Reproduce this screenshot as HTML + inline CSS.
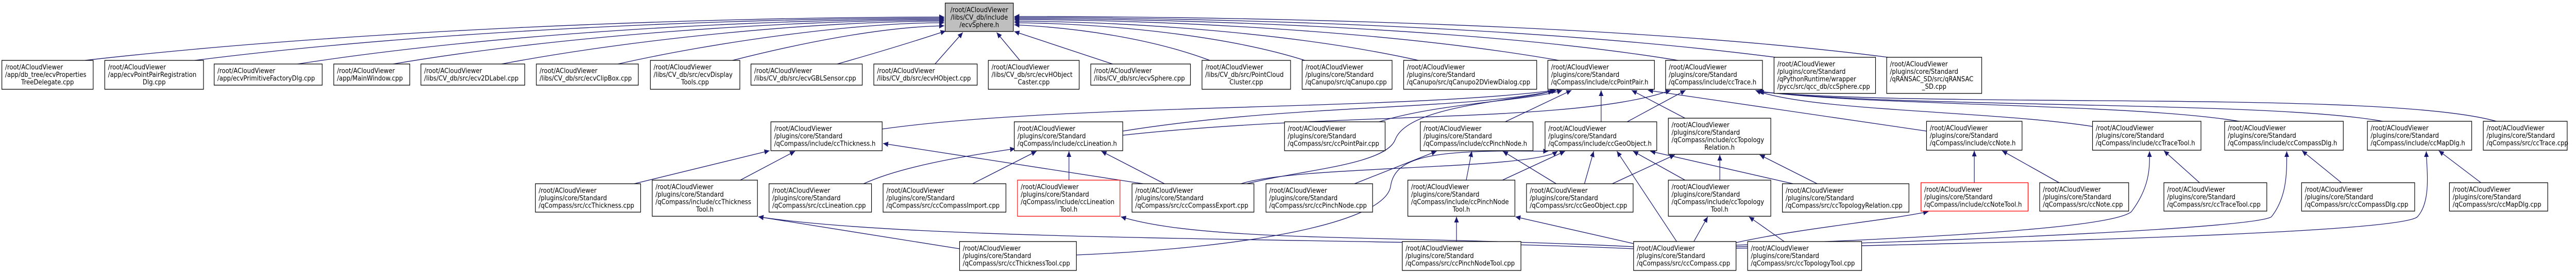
<!DOCTYPE html>
<html><head><meta charset="utf-8"><style>
html,body{margin:0;padding:0;background:#fff;width:100%;height:100%;overflow:hidden;}
svg{display:block;position:absolute;left:0;top:0;width:100vw;height:100vh;}
text{font-family:"DejaVu Sans","Liberation Sans",sans-serif;font-size:13px;fill:#000;}
.n{fill:#fff;stroke:#000;stroke-width:1.3;}
.r{fill:#fff;stroke:#ff0000;stroke-width:1.3;}
.e{fill:none;stroke:#191970;stroke-width:1.3;marker-end:url(#a);}
.c{text-anchor:middle;}
</style></head><body>
<svg viewBox="0 0 5557 527" preserveAspectRatio="none" xmlns="http://www.w3.org/2000/svg">
<defs><marker id="a" markerUnits="userSpaceOnUse" markerWidth="12" markerHeight="10" refX="11" refY="5" orient="auto"><path d="M0,0 L11,5 L0,10 z" fill="#191970"/></marker></defs>

<path class="e" d="M183,117 C739,60 1500,33 2037,33"/>
<path class="e" d="M420,117 C900,62 1560,35 2037,35"/>
<path class="e" d="M642,124 C1060,66 1620,37 2037,37"/>
<path class="e" d="M848,124 C1200,70 1690,39 2037,39"/>
<path class="e" d="M1082,124 C1370,75 1760,41 2037,41"/>
<path class="e" d="M1333,124 C1540,82 1840,44 2037,44"/>
<path class="e" d="M1580,117 C1720,85 1900,52 2037,50"/>
<path class="e" d="M1806,124 C1900,100 1990,75 2040,60"/>
<path class="e" d="M2017,124 L2077,63"/>
<path class="e" d="M2200,117 L2150,63"/>
<path class="e" d="M2400,124 L2188,61"/>
<path class="e" d="M2610,117 C2500,80 2350,55 2188,48"/>
<path class="e" d="M2815,117 C2650,70 2400,46 2188,44"/>
<path class="e" d="M3060,117 C2800,65 2450,42 2188,41"/>
<path class="e" d="M3363,117 C3000,60 2500,38 2188,38"/>
<path class="e" d="M3620,117 C3200,55 2550,36 2188,36"/>
<path class="e" d="M3830,111 C3300,50 2600,34 2188,34"/>
<path class="e" d="M4073,111 C3500,45 2650,32 2188,32"/>

<path class="e" d="M1903,250 C2300,200 3000,215 3355,175"/>
<path class="e" d="M2422,254 C2800,200 3150,215 3358,175"/>
<path class="e" d="M2422,262 C2900,215 3400,240 3604,175"/>
<path class="e" d="M2975,236 C3100,200 3300,195 3370,175"/>
<path class="e" d="M3247,236 L3390,175"/>
<path class="e" d="M3454,236 L3454,175"/>
<path class="e" d="M3635,229 L3520,175"/>
<path class="e" d="M4156,254 L3555,175"/>
<path class="e" d="M3510,236 L3636,175"/>
<path class="e" d="M4514,245 C4300,215 3900,215 3787,175"/>
<path class="e" d="M4830,235 C4600,200 4000,205 3790,176"/>
<path class="e" d="M5140,235 C4900,195 4100,210 3792,177"/>
<path class="e" d="M5385,235 C5150,175 4200,210 3794,178"/>

<path class="e" d="M1368,356 L1660,292"/>
<path class="e" d="M1597,349 L1715,293"/>
<path class="e" d="M2466,356 L1905,278"/>
<path class="e" d="M1863,356 C1950,320 2100,300 2190,288"/>
<path class="e" d="M2098,356 L2236,293"/>
<path class="e" d="M2306,349 L2306,293"/>
<path class="e" d="M2512,356 L2376,293"/>
<path class="e" d="M2677,356 C2800,320 3300,330 3360,293"/>
<path class="e" d="M2690,356 C2800,330 2990,320 3010,270 C3040,200 3300,195 3350,175"/>
<path class="e" d="M2922,356 L3099,293"/>
<path class="e" d="M3163,349 L3175,293"/>
<path class="e" d="M3241,349 L3376,293"/>
<path class="e" d="M3357,356 L3242,293"/>
<path class="e" d="M3418,356 L3438,293"/>
<path class="e" d="M3478,356 L3613,300"/>
<path class="e" d="M3635,349 L3523,293"/>
<path class="e" d="M3710,349 L3710,300"/>
<path class="e" d="M3868,356 L3560,293"/>
<path class="e" d="M3920,356 L3796,300"/>
<path class="e" d="M4259,354 L4259,292"/>
<path class="e" d="M4442,354 L4319,292"/>
<path class="e" d="M4745,354 L4668,292"/>
<path class="e" d="M5051,354 L4966,292"/>
<path class="e" d="M5352,354 L5261,292"/>

<path class="e" d="M2070,482 L1636,420"/>
<path class="e" d="M3524,482 C3000,460 2000,470 1636,420"/>
<path class="e" d="M3524,478 C3000,455 2600,470 2418,420"/>
<path class="e" d="M3524,472 L3269,420"/>
<path class="e" d="M3617,468 L3488,293"/>
<path class="e" d="M3654,468 L3684,420"/>
<path class="e" d="M3745,470 C3900,440 4050,430 4160,410"/>
<path class="e" d="M3745,475 C4200,460 4560,440 4598,410 C4640,360 4637,320 4637,293"/>
<path class="e" d="M3745,478 C4300,465 4870,440 4900,420 C4935,380 4933,330 4933,293"/>
<path class="e" d="M3745,481 C4400,470 5180,450 5215,420 C5245,390 5235,330 5234,293"/>
<path class="e" d="M3142,468 L3142,420"/>
<path class="e" d="M3849,468 L3773,420"/>
<path class="e" d="M2322,494 C2700,480 2990,430 3000,360 C3010,300 3100,290 3340,293"/>

<rect x="2039" y="6" width="147" height="55" fill="#bfbfbf" stroke="#000" stroke-width="1.3"/>
<text class="c"><tspan x="2112.5" y="23.75">/root/ACloudViewer</tspan><tspan x="2112.5" dy="14.5">/libs/CV_db/include</tspan><tspan x="2112.5" dy="14.5">/ecvSphere.h</tspan></text>

<rect class="n" x="4" y="117" width="197" height="56"/><text><tspan x="11" y="134.75">/root/ACloudViewer</tspan><tspan x="11" dy="14.5">/app/db_tree/ecvProperties</tspan><tspan class="c" x="102.5" dy="14.5">TreeDelegate.cpp</tspan></text>
<rect class="n" x="226" y="117" width="213" height="56"/><text><tspan x="233" y="134.75">/root/ACloudViewer</tspan><tspan x="233" dy="14.5">/app/ecvPointPairRegistration</tspan><tspan class="c" x="332.5" dy="14.5">Dlg.cpp</tspan></text>
<rect class="n" x="462" y="124" width="233" height="41"/><text><tspan x="469" y="141.5">/root/ACloudViewer</tspan><tspan x="469" dy="14.5">/app/ecvPrimitiveFactoryDlg.cpp</tspan></text>
<rect class="n" x="720" y="124" width="164" height="41"/><text><tspan x="727" y="141.5">/root/ACloudViewer</tspan><tspan x="727" dy="14.5">/app/MainWindow.cpp</tspan></text>
<rect class="n" x="908" y="124" width="224" height="41"/><text><tspan x="915" y="141.5">/root/ACloudViewer</tspan><tspan x="915" dy="14.5">/libs/CV_db/src/ecv2DLabel.cpp</tspan></text>
<rect class="n" x="1157" y="124" width="220" height="41"/><text><tspan x="1164" y="141.5">/root/ACloudViewer</tspan><tspan x="1164" dy="14.5">/libs/CV_db/src/ecvClipBox.cpp</tspan></text>
<rect class="n" x="1403" y="117" width="193" height="56"/><text><tspan x="1410" y="134.75">/root/ACloudViewer</tspan><tspan x="1410" dy="14.5">/libs/CV_db/src/ecvDisplay</tspan><tspan class="c" x="1499.5" dy="14.5">Tools.cpp</tspan></text>
<rect class="n" x="1620" y="124" width="240" height="41"/><text><tspan x="1627" y="141.5">/root/ACloudViewer</tspan><tspan x="1627" dy="14.5">/libs/CV_db/src/ecvGBLSensor.cpp</tspan></text>
<rect class="n" x="1885" y="124" width="223" height="41"/><text><tspan x="1892" y="141.5">/root/ACloudViewer</tspan><tspan x="1892" dy="14.5">/libs/CV_db/src/ecvHObject.cpp</tspan></text>
<rect class="n" x="2132" y="117" width="196" height="56"/><text><tspan x="2139" y="134.75">/root/ACloudViewer</tspan><tspan x="2139" dy="14.5">/libs/CV_db/src/ecvHObject</tspan><tspan class="c" x="2230" dy="14.5">Caster.cpp</tspan></text>
<rect class="n" x="2353" y="124" width="215" height="41"/><text><tspan x="2360" y="141.5">/root/ACloudViewer</tspan><tspan x="2360" dy="14.5">/libs/CV_db/src/ecvSphere.cpp</tspan></text>
<rect class="n" x="2593" y="117" width="191" height="56"/><text><tspan x="2600" y="134.75">/root/ACloudViewer</tspan><tspan x="2600" dy="14.5">/libs/CV_db/src/PointCloud</tspan><tspan class="c" x="2688.5" dy="14.5">Cluster.cpp</tspan></text>
<rect class="n" x="2809" y="117" width="194" height="56"/><text><tspan x="2816" y="134.75">/root/ACloudViewer</tspan><tspan x="2816" dy="14.5">/plugins/core/Standard</tspan><tspan x="2816" dy="14.5">/qCanupo/src/qCanupo.cpp</tspan></text>
<rect class="n" x="3028" y="117" width="287" height="56"/><text><tspan x="3035" y="134.75">/root/ACloudViewer</tspan><tspan x="3035" dy="14.5">/plugins/core/Standard</tspan><tspan x="3035" dy="14.5">/qCanupo/src/qCanupo2DViewDialog.cpp</tspan></text>
<rect class="n" x="3339" y="117" width="230" height="56"/><text><tspan x="3346" y="134.75">/root/ACloudViewer</tspan><tspan x="3346" dy="14.5">/plugins/core/Standard</tspan><tspan x="3346" dy="14.5">/qCompass/include/ccPointPair.h</tspan></text>
<rect class="n" x="3593" y="117" width="209" height="56"/><text><tspan x="3600" y="134.75">/root/ACloudViewer</tspan><tspan x="3600" dy="14.5">/plugins/core/Standard</tspan><tspan x="3600" dy="14.5">/qCompass/include/ccTrace.h</tspan></text>
<rect class="n" x="3827" y="111" width="219" height="70"/><text><tspan x="3834" y="128.5">/root/ACloudViewer</tspan><tspan x="3834" dy="14.5">/plugins/core/Standard</tspan><tspan x="3834" dy="14.5">/qPythonRuntime/wrapper</tspan><tspan x="3834" dy="14.5">/pycc/src/qcc_db/ccSphere.cpp</tspan></text>
<rect class="n" x="4070" y="111" width="205" height="70"/><text><tspan x="4077" y="128.5">/root/ACloudViewer</tspan><tspan x="4077" dy="14.5">/plugins/core/Standard</tspan><tspan x="4077" dy="14.5">/qRANSAC_SD/src/qRANSAC</tspan><tspan class="c" x="4172.5" dy="14.5">_SD.cpp</tspan></text>

<rect class="n" x="1663" y="236" width="240" height="56"/><text><tspan x="1670" y="253.75">/root/ACloudViewer</tspan><tspan x="1670" dy="14.5">/plugins/core/Standard</tspan><tspan x="1670" dy="14.5">/qCompass/include/ccThickness.h</tspan></text>
<rect class="n" x="2188" y="236" width="234" height="56"/><text><tspan x="2195" y="253.75">/root/ACloudViewer</tspan><tspan x="2195" dy="14.5">/plugins/core/Standard</tspan><tspan x="2195" dy="14.5">/qCompass/include/ccLineation.h</tspan></text>
<rect class="n" x="2771" y="236" width="217" height="56"/><text><tspan x="2778" y="253.75">/root/ACloudViewer</tspan><tspan x="2778" dy="14.5">/plugins/core/Standard</tspan><tspan x="2778" dy="14.5">/qCompass/src/ccPointPair.cpp</tspan></text>
<rect class="n" x="3064" y="236" width="243" height="56"/><text><tspan x="3071" y="253.75">/root/ACloudViewer</tspan><tspan x="3071" dy="14.5">/plugins/core/Standard</tspan><tspan x="3071" dy="14.5">/qCompass/include/ccPinchNode.h</tspan></text>
<rect class="n" x="3333" y="236" width="241" height="56"/><text><tspan x="3340" y="253.75">/root/ACloudViewer</tspan><tspan x="3340" dy="14.5">/plugins/core/Standard</tspan><tspan x="3340" dy="14.5">/qCompass/include/ccGeoObject.h</tspan></text>
<rect class="n" x="3599" y="229" width="221" height="70"/><text><tspan x="3606" y="246.5">/root/ACloudViewer</tspan><tspan x="3606" dy="14.5">/plugins/core/Standard</tspan><tspan x="3606" dy="14.5">/qCompass/include/ccTopology</tspan><tspan class="c" x="3709.5" dy="14.5">Relation.h</tspan></text>
<rect class="n" x="4156" y="235" width="206" height="56"/><text><tspan x="4163" y="252.75">/root/ACloudViewer</tspan><tspan x="4163" dy="14.5">/plugins/core/Standard</tspan><tspan x="4163" dy="14.5">/qCompass/include/ccNote.h</tspan></text>
<rect class="n" x="4514" y="235" width="234" height="56"/><text><tspan x="4521" y="252.75">/root/ACloudViewer</tspan><tspan x="4521" dy="14.5">/plugins/core/Standard</tspan><tspan x="4521" dy="14.5">/qCompass/include/ccTraceTool.h</tspan></text>
<rect class="n" x="4799" y="235" width="256" height="56"/><text><tspan x="4806" y="252.75">/root/ACloudViewer</tspan><tspan x="4806" dy="14.5">/plugins/core/Standard</tspan><tspan x="4806" dy="14.5">/qCompass/include/ccCompassDlg.h</tspan></text>
<rect class="n" x="5107" y="235" width="225" height="56"/><text><tspan x="5114" y="252.75">/root/ACloudViewer</tspan><tspan x="5114" dy="14.5">/plugins/core/Standard</tspan><tspan x="5114" dy="14.5">/qCompass/include/ccMapDlg.h</tspan></text>
<rect class="n" x="5357" y="235" width="181" height="56"/><text><tspan x="5364" y="252.75">/root/ACloudViewer</tspan><tspan x="5364" dy="14.5">/plugins/core/Standard</tspan><tspan x="5364" dy="14.5">/qCompass/src/ccTrace.cpp</tspan></text>

<rect class="n" x="1155" y="356" width="227" height="55"/><text><tspan x="1162" y="373.75">/root/ACloudViewer</tspan><tspan x="1162" dy="14.5">/plugins/core/Standard</tspan><tspan x="1162" dy="14.5">/qCompass/src/ccThickness.cpp</tspan></text>
<rect class="n" x="1407" y="349" width="227" height="70"/><text><tspan x="1414" y="366.5">/root/ACloudViewer</tspan><tspan x="1414" dy="14.5">/plugins/core/Standard</tspan><tspan x="1414" dy="14.5">/qCompass/include/ccThickness</tspan><tspan class="c" x="1520.5" dy="14.5">Tool.h</tspan></text>
<rect class="n" x="1659" y="356" width="221" height="55"/><text><tspan x="1666" y="373.75">/root/ACloudViewer</tspan><tspan x="1666" dy="14.5">/plugins/core/Standard</tspan><tspan x="1666" dy="14.5">/qCompass/src/ccLineation.cpp</tspan></text>
<rect class="n" x="1905" y="356" width="265" height="55"/><text><tspan x="1912" y="373.75">/root/ACloudViewer</tspan><tspan x="1912" dy="14.5">/plugins/core/Standard</tspan><tspan x="1912" dy="14.5">/qCompass/src/ccCompassImport.cpp</tspan></text>
<rect class="r" x="2195" y="349" width="221" height="70"/><text><tspan x="2202" y="366.5">/root/ACloudViewer</tspan><tspan x="2202" dy="14.5">/plugins/core/Standard</tspan><tspan x="2202" dy="14.5">/qCompass/include/ccLineation</tspan><tspan class="c" x="2305.5" dy="14.5">Tool.h</tspan></text>
<rect class="n" x="2442" y="356" width="263" height="55"/><text><tspan x="2449" y="373.75">/root/ACloudViewer</tspan><tspan x="2449" dy="14.5">/plugins/core/Standard</tspan><tspan x="2449" dy="14.5">/qCompass/src/ccCompassExport.cpp</tspan></text>
<rect class="n" x="2731" y="356" width="230" height="55"/><text><tspan x="2738" y="373.75">/root/ACloudViewer</tspan><tspan x="2738" dy="14.5">/plugins/core/Standard</tspan><tspan x="2738" dy="14.5">/qCompass/src/ccPinchNode.cpp</tspan></text>
<rect class="n" x="3037" y="349" width="231" height="70"/><text><tspan x="3044" y="366.5">/root/ACloudViewer</tspan><tspan x="3044" dy="14.5">/plugins/core/Standard</tspan><tspan x="3044" dy="14.5">/qCompass/include/ccPinchNode</tspan><tspan class="c" x="3152.5" dy="14.5">Tool.h</tspan></text>
<rect class="n" x="3293" y="356" width="230" height="55"/><text><tspan x="3300" y="373.75">/root/ACloudViewer</tspan><tspan x="3300" dy="14.5">/plugins/core/Standard</tspan><tspan x="3300" dy="14.5">/qCompass/src/ccGeoObject.cpp</tspan></text>
<rect class="n" x="3599" y="349" width="221" height="70"/><text><tspan x="3606" y="366.5">/root/ACloudViewer</tspan><tspan x="3606" dy="14.5">/plugins/core/Standard</tspan><tspan x="3606" dy="14.5">/qCompass/include/ccTopology</tspan><tspan class="c" x="3709.5" dy="14.5">Tool.h</tspan></text>
<rect class="n" x="3845" y="356" width="273" height="55"/><text><tspan x="3852" y="373.75">/root/ACloudViewer</tspan><tspan x="3852" dy="14.5">/plugins/core/Standard</tspan><tspan x="3852" dy="14.5">/qCompass/src/ccTopologyRelation.cpp</tspan></text>
<rect class="r" x="4144" y="354" width="231" height="55"/><text><tspan x="4151" y="371.75">/root/ACloudViewer</tspan><tspan x="4151" dy="14.5">/plugins/core/Standard</tspan><tspan x="4151" dy="14.5">/qCompass/include/ccNoteTool.h</tspan></text>
<rect class="n" x="4400" y="354" width="192" height="55"/><text><tspan x="4407" y="371.75">/root/ACloudViewer</tspan><tspan x="4407" dy="14.5">/plugins/core/Standard</tspan><tspan x="4407" dy="14.5">/qCompass/src/ccNote.cpp</tspan></text>
<rect class="n" x="4668" y="354" width="222" height="55"/><text><tspan x="4675" y="371.75">/root/ACloudViewer</tspan><tspan x="4675" dy="14.5">/plugins/core/Standard</tspan><tspan x="4675" dy="14.5">/qCompass/src/ccTraceTool.cpp</tspan></text>
<rect class="n" x="4965" y="354" width="244" height="55"/><text><tspan x="4972" y="371.75">/root/ACloudViewer</tspan><tspan x="4972" dy="14.5">/plugins/core/Standard</tspan><tspan x="4972" dy="14.5">/qCompass/src/ccCompassDlg.cpp</tspan></text>
<rect class="n" x="5284" y="354" width="212" height="55"/><text><tspan x="5291" y="371.75">/root/ACloudViewer</tspan><tspan x="5291" dy="14.5">/plugins/core/Standard</tspan><tspan x="5291" dy="14.5">/qCompass/src/ccMapDlg.cpp</tspan></text>

<rect class="n" x="2070" y="468" width="252" height="56"/><text><tspan x="2077" y="485.75">/root/ACloudViewer</tspan><tspan x="2077" dy="14.5">/plugins/core/Standard</tspan><tspan x="2077" dy="14.5">/qCompass/src/ccThicknessTool.cpp</tspan></text>
<rect class="n" x="3025" y="468" width="256" height="56"/><text><tspan x="3032" y="485.75">/root/ACloudViewer</tspan><tspan x="3032" dy="14.5">/plugins/core/Standard</tspan><tspan x="3032" dy="14.5">/qCompass/src/ccPinchNodeTool.cpp</tspan></text>
<rect class="n" x="3524" y="468" width="221" height="56"/><text><tspan x="3531" y="485.75">/root/ACloudViewer</tspan><tspan x="3531" dy="14.5">/plugins/core/Standard</tspan><tspan x="3531" dy="14.5">/qCompass/src/ccCompass.cpp</tspan></text>
<rect class="n" x="3770" y="468" width="246" height="56"/><text><tspan x="3777" y="485.75">/root/ACloudViewer</tspan><tspan x="3777" dy="14.5">/plugins/core/Standard</tspan><tspan x="3777" dy="14.5">/qCompass/src/ccTopologyTool.cpp</tspan></text>
</svg>
</body></html>
